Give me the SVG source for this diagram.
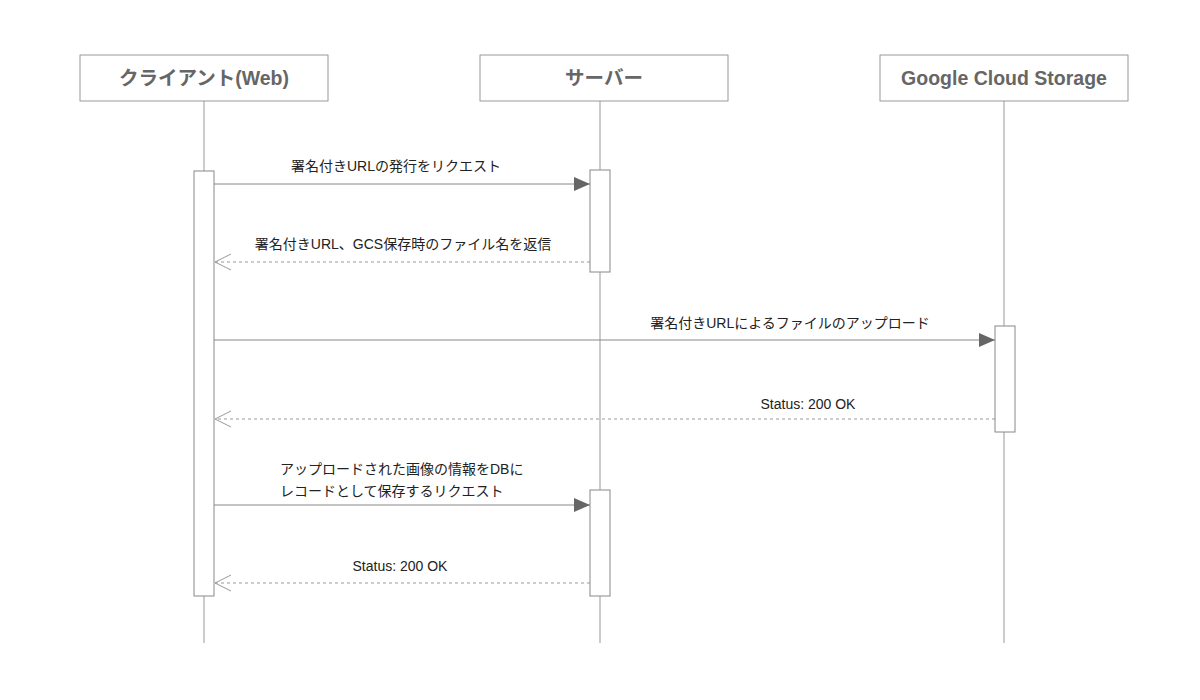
<svg xmlns="http://www.w3.org/2000/svg" width="1200" height="700" viewBox="0 0 1200 700">
<style>
.box{fill:#fff;stroke:#999;stroke-width:1}
.title{font-family:"Liberation Sans","Noto Sans CJK JP",sans-serif;font-size:19.5px;font-weight:bold;fill:#666;text-anchor:middle}
.life{stroke:#999;stroke-width:1}
.act{fill:#fff;stroke:#888;stroke-width:1}
.msg{stroke:#888;stroke-width:1;fill:none}
.ret{stroke:#999;stroke-width:1;fill:none;stroke-dasharray:3,3}
.lbl{font-family:"Liberation Sans","Noto Sans CJK JP",sans-serif;font-size:14px;fill:#222;text-anchor:middle}
.lbll{font-family:"Liberation Sans","Noto Sans CJK JP",sans-serif;font-size:14px;fill:#222}
</style>
<defs>
<marker id="fill" markerWidth="16" markerHeight="14" refX="16" refY="7" orient="auto" markerUnits="userSpaceOnUse"><path d="M0,0 L16,7 L0,14 z" fill="#666"/></marker>
<marker id="open" markerWidth="17" markerHeight="18" refX="16" refY="9" orient="auto" markerUnits="userSpaceOnUse"><path d="M0,1 L16,9 L0,17" fill="none" stroke="#999" stroke-width="1"/></marker>
</defs>
<g id="lifelines">
<line class="life" x1="204" y1="101" x2="204" y2="643"/>
<line class="life" x1="600" y1="101" x2="600" y2="643"/>
<line class="life" x1="1004" y1="101" x2="1004" y2="643"/>
</g>
<g id="client"><rect class="box" x="80" y="55" width="248" height="46"/><text class="title" x="204" y="85">クライアント(Web)</text></g>
<g id="server"><rect class="box" x="480" y="55" width="248" height="46"/><text class="title" x="604" y="85">サーバー</text></g>
<g id="gcs"><rect class="box" x="880" y="55" width="248" height="46"/><text class="title" x="1004" y="85">Google Cloud Storage</text></g>
<g id="activations">
<rect class="act" x="194" y="171" width="20" height="425"/>
<rect class="act" x="590" y="170" width="20" height="102"/>
<rect class="act" x="995" y="326" width="20" height="106"/>
<rect class="act" x="590" y="490" width="20" height="106"/>
</g>
<g id="connectors">
<line class="msg" x1="214" y1="184" x2="590" y2="184" marker-end="url(#fill)"/>
<line class="ret" x1="590" y1="262" x2="215" y2="262" marker-end="url(#open)"/>
<line class="msg" x1="214" y1="340" x2="995" y2="340" marker-end="url(#fill)"/>
<line class="ret" x1="995" y1="419" x2="215" y2="419" marker-end="url(#open)"/>
<line class="msg" x1="214" y1="505" x2="590" y2="505" marker-end="url(#fill)"/>
<line class="ret" x1="590" y1="583" x2="215" y2="583" marker-end="url(#open)"/>
</g>
<g id="labels">
<text class="lbl" x="396" y="171">署名付きURLの発行をリクエスト</text>
<text class="lbl" x="403" y="249">署名付きURL、GCS保存時のファイル名を返信</text>
<text class="lbl" x="790" y="328">署名付きURLによるファイルのアップロード</text>
<text class="lbl" x="808" y="409">Status: 200 OK</text>
<text class="lbll" x="280" y="474">アップロードされた画像の情報をDBに</text>
<text class="lbll" x="280" y="496">レコードとして保存するリクエスト</text>
<text class="lbl" x="400" y="571">Status: 200 OK</text>
</g>
</svg>
